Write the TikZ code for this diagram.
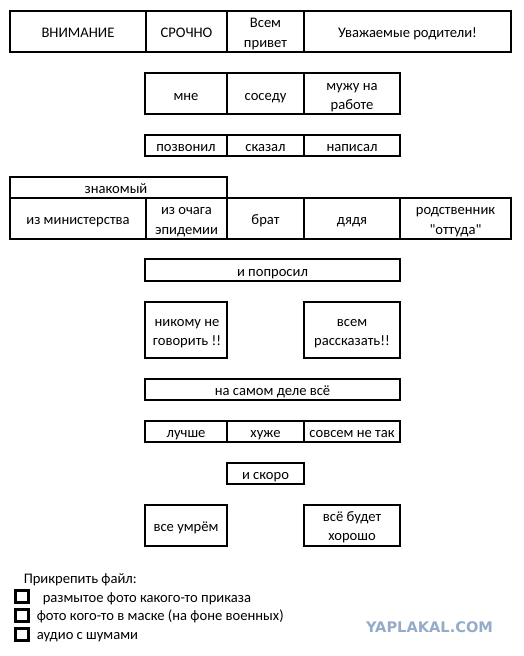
\documentclass[tikz,border=0pt]{standalone}
\usepackage{fontspec}
\setmainfont{Carlito}
\newfontfamily\wmfont{DejaVu Sans}
\usepackage{tikz}
\tikzset{every picture/.style={line width=2pt}}
\tikzset{every node/.style={font=\fontsize{14.6}{19.5}\selectfont}}
\definecolor{wmblue}{RGB}{148,172,200}

\begin{document}
\begin{tikzpicture}[x=1pt,y=1pt,yscale=-1,xscale=1]
\useasboundingbox (0,0) rectangle (524,656);
% greeting row
\draw   (10,11) -- (511,11) -- (511,52) -- (10,52) -- cycle ;
\draw    (146,11) -- (146,52) ;
\draw    (227,11) -- (227,52) ;
\draw    (304,11) -- (304,52) ;
\draw (78,37.5) node [anchor=base][inner sep=0.75pt]   [align=center] (vnim) {ВНИМАНИЕ};
\draw (186.5,37.5) node [anchor=base][inner sep=0.75pt]   [align=center] (sroch) {СРОЧНО};
\draw (265.5,47) node [anchor=base][inner sep=0.75pt]   [align=center] (privet) {Всем\\привет};
\draw (407.5,37.5) node [anchor=base][inner sep=0.75pt]   [align=center] (rodit) {Уважаемые родители!};
% to whom
\draw   (145,73) -- (400,73) -- (400,114) -- (145,114) -- cycle ;
\draw    (227,73) -- (227,114) ;
\draw    (304,73) -- (304,114) ;
\draw (186,100) node [anchor=base][inner sep=0.75pt]   [align=center] (mne) {мне};
\draw (265.5,100) node [anchor=base][inner sep=0.75pt]   [align=center] (sosed) {соседу};
\draw (352,109.5) node [anchor=base][inner sep=0.75pt]   [align=center] (muzh) {мужу на\\работе};
% how
\draw   (145,135) -- (400,135) -- (400,156) -- (145,156) -- cycle ;
\draw    (227,135) -- (227,156) ;
\draw    (304,135) -- (304,156) ;
\draw (186,151.5) node [anchor=base][inner sep=0.75pt]   [align=center] (zvon) {позвонил};
\draw (265.5,151.5) node [anchor=base][inner sep=0.75pt]   [align=center] (skaz) {сказал};
\draw (352,151.5) node [anchor=base][inner sep=0.75pt]   [align=center] (napis) {написал};
% who
\draw   (10,177) -- (227,177) -- (227,198) -- (10,198) -- cycle ;
\draw   (10,198) -- (511,198) -- (511,239) -- (10,239) -- cycle ;
\draw    (146,198) -- (146,239) ;
\draw    (227,198) -- (227,239) ;
\draw    (304,198) -- (304,239) ;
\draw    (400,198) -- (400,239) ;
\draw (116,193.5) node [anchor=base][inner sep=0.75pt]   [align=center] (znak) {знакомый};
\draw (78,224.5) node [anchor=base][inner sep=0.75pt]   [align=center] (minist) {из министерства};
\draw (186.5,234) node [anchor=base][inner sep=0.75pt]   [align=center] (ochag) {из очага\\эпидемии};
\draw (265.5,224.5) node [anchor=base][inner sep=0.75pt]   [align=center] (brat) {брат};
\draw (352,224.5) node [anchor=base][inner sep=0.75pt]   [align=center] (dyadya) {дядя};
\draw (455.5,234) node [anchor=base][inner sep=0.75pt]   [align=center] (rodstv) {родственник\\\textquotedbl оттуда\textquotedbl};
% asked
\draw   (145,259) -- (400,259) -- (400,281) -- (145,281) -- cycle ;
\draw (272.5,276) node [anchor=base][inner sep=0.75pt]   [align=center] (poprosil) {и попросил};
\draw   (145,302) -- (227,302) -- (227,358) -- (145,358) -- cycle ;
\draw   (304,302) -- (400,302) -- (400,358) -- (304,358) -- cycle ;
\draw (187,345.5) node [anchor=base][inner sep=0.75pt]   [align=center] (nikomu) {никому не\\говорить !!};
\draw (352,345.5) node [anchor=base][inner sep=0.75pt]   [align=center] (vsem) {всем\\рассказать!!};
% in fact
\draw   (145,379) -- (400,379) -- (400,400) -- (145,400) -- cycle ;
\draw (272.5,395.5) node [anchor=base][inner sep=0.75pt]   [align=center] (nadele) {на самом деле всё};
\draw   (145,421) -- (400,421) -- (400,442) -- (145,442) -- cycle ;
\draw    (227,421) -- (227,442) ;
\draw    (304,421) -- (304,442) ;
\draw (186,437.5) node [anchor=base][inner sep=0.75pt]   [align=center] (luchshe) {лучше};
\draw (265.5,437.5) node [anchor=base][inner sep=0.75pt]   [align=center] (huzhe) {хуже};
\draw (352,437.5) node [anchor=base][inner sep=0.75pt]   [align=center] (netak) {совсем не так};
% soon
\draw   (227,463) -- (304,463) -- (304,484) -- (227,484) -- cycle ;
\draw (265.5,479.5) node [anchor=base][inner sep=0.75pt]   [align=center] (skoro) {и скоро};
\draw   (145,505) -- (227,505) -- (227,546) -- (145,546) -- cycle ;
\draw   (304,505) -- (400,505) -- (400,546) -- (304,546) -- cycle ;
\draw (186,531) node [anchor=base][inner sep=0.75pt]   [align=center] (umrem) {все умрём};
\draw (352,540.5) node [anchor=base][inner sep=0.75pt]   [align=center] (horosho) {всё будет\\хорошо};
% attachments
\draw (22,583.5) node [anchor=base west][inner sep=0.75pt]   [align=left] (prikr) {Прикрепить файл:};
\draw [line width=3pt]  (15.5,590.5) -- (28.5,590.5) -- (28.5,602) -- (15.5,602) -- cycle ;
\draw [line width=3pt]  (15.5,609.5) -- (28.5,609.5) -- (28.5,621) -- (15.5,621) -- cycle ;
\draw [line width=3pt]  (15.5,628.5) -- (28.5,628.5) -- (28.5,640) -- (15.5,640) -- cycle ;
\draw (41,602) node [anchor=base west][inner sep=0.75pt]   [align=left] (razm) {размытое фото какого-то приказа};
\draw (35,620.5) node [anchor=base west][inner sep=0.75pt]   [align=left] (maska) {фото кого-то в маске (на фоне военных)};
\draw (35,639) node [anchor=base west][inner sep=0.75pt]   [align=left] (audio) {аудио с шумами};
\draw (429.5,627) node [inner sep=0pt, text=wmblue, font=\wmfont\bfseries\fontsize{14.6}{15}\selectfont]  (wm) {YAPLAKAL.COM};
\end{tikzpicture}
\end{document}
